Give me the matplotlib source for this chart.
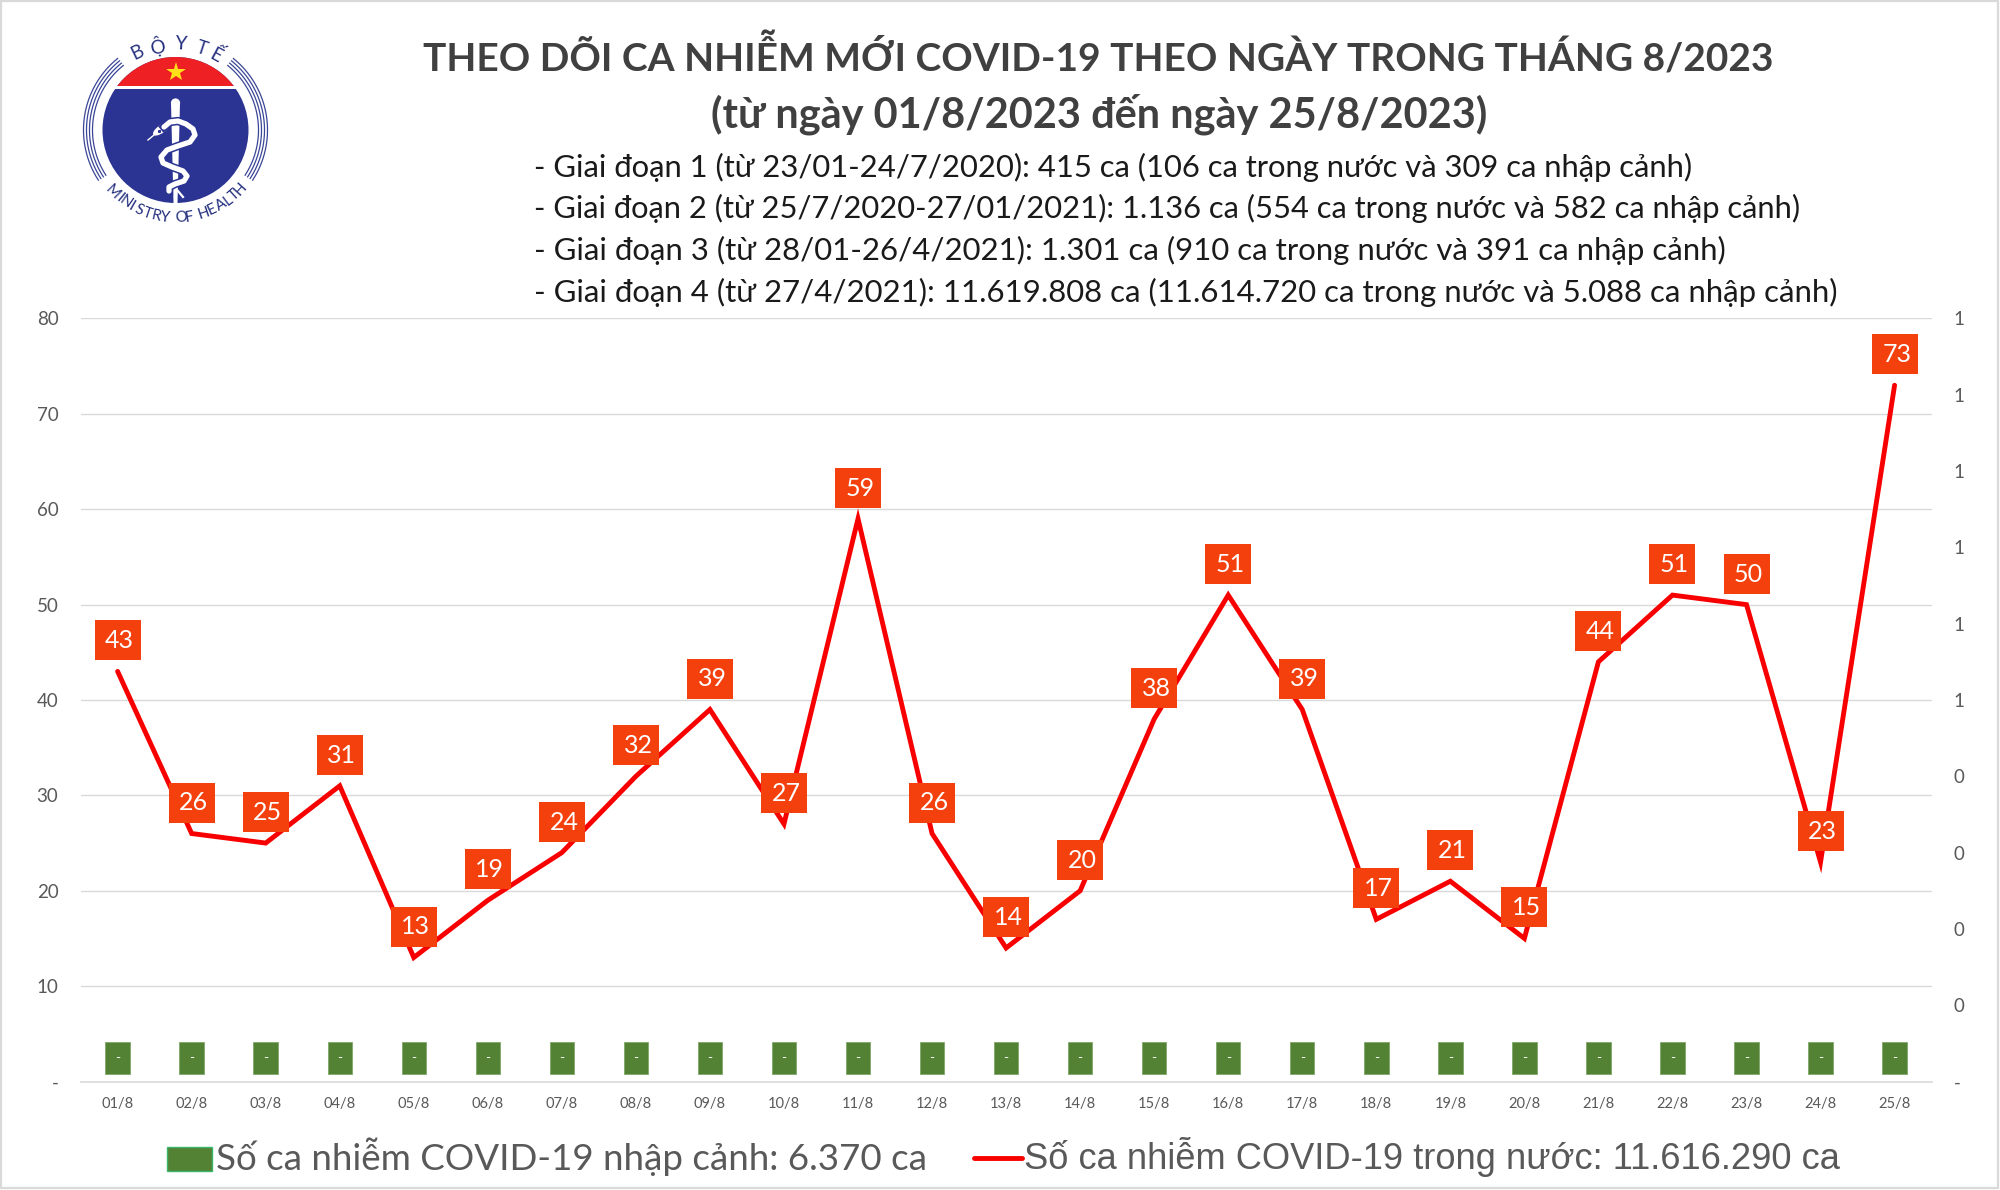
import numpy as np
import matplotlib
matplotlib.use('Agg')
import matplotlib.pyplot as plt
from matplotlib.patches import Circle, Rectangle, Ellipse
from matplotlib.path import Path
from matplotlib.transforms import offset_copy
from matplotlib.ticker import FuncFormatter

FONT = ['Lato', 'Noto Sans', 'DejaVu Sans']
plt.rcParams['font.family'] = FONT

# donnees
days = ['01/8', '02/8', '03/8', '04/8', '05/8', '06/8', '07/8', '08/8', '09/8', '10/8',
        '11/8', '12/8', '13/8', '14/8', '15/8', '16/8', '17/8', '18/8', '19/8', '20/8',
        '21/8', '22/8', '23/8', '24/8', '25/8']
trong_nuoc = [43, 26, 25, 31, 13, 19, 24, 32, 39, 27, 59, 26, 14, 20, 38, 51, 39, 17, 21, 15, 44, 51, 50, 23, 73]
bar_low = [0.8] * 25
bar_height = [3.3] * 25

title_1 = 'THEO DÕI CA NHIỄM MỚI COVID-19 THEO NGÀY TRONG THÁNG 8/2023'
title_2 = '(từ ngày 01/8/2023 đến ngày 25/8/2023)'
sub_lines = [
    '- Giai đoạn 1 (từ 23/01-24/7/2020): 415 ca (106 ca trong nước và 309 ca nhập cảnh)',
    '- Giai đoạn 2 (từ 25/7/2020-27/01/2021): 1.136 ca (554 ca trong nước và 582 ca nhập cảnh)',
    '- Giai đoạn 3 (từ 28/01-26/4/2021): 1.301 ca (910 ca trong nước và 391 ca nhập cảnh)',
    '- Giai đoạn 4 (từ 27/4/2021): 11.619.808 ca (11.614.720 ca trong nước và 5.088 ca nhập cảnh)',
]
legend_bar = 'Số ca nhiễm COVID-19 nhập cảnh: 6.370 ca'
legend_line = 'Số ca nhiễm COVID-19 trong nước: 11.616.290 ca'

W, H = 2000, 1190
GREY = '#595959'
RED = '#F80000'
ORANGE = '#F4400C'
GREEN = '#548235'
BLUE = '#2B3492'

fig = plt.figure(figsize=(W / 100, H / 100), dpi=100, facecolor='white')
renderer = fig.canvas.get_renderer()

# graphique principal
ax = fig.add_axes([80.6 / W, 1 - 1081.5 / H, 1851 / W, 763 / H])
x = np.arange(len(days))
ax.bar(x, bar_height, bottom=bar_low, width=0.33, color=GREEN, edgecolor='#7FA868', linewidth=0.6, zorder=2)
for i in x:
    ax.text(i, bar_low[i] + bar_height[i] / 2, '-', color='white', fontsize=10, ha='center', va='center', zorder=3)
ax.plot(x, trong_nuoc, color=RED, lw=3.5, solid_joinstyle='miter', solid_capstyle='round', zorder=4)

# etiquettes rouges
box = Path([(-23.5, -20), (23.5, -20), (23.5, 20), (-23.5, 20), (-23.5, -20)], closed=True)
ax.plot(x, trong_nuoc, ls='none', marker=box, ms=47 * 0.72, mfc=ORANGE, mew=0, zorder=5,
        transform=offset_copy(ax.transData, fig=fig, y=31, units='dots'))
for i, v in zip(x, trong_nuoc):
    ax.annotate(str(v), (i, v), xytext=(1.5, 22), textcoords='offset points', color='white',
                fontsize=18, ha='center', va='center', zorder=6)

ax.set_xlim(-0.5, 24.5)
ax.set_ylim(0, 80)
ax.set_yticks(range(0, 81, 10))
ax.yaxis.set_major_formatter(FuncFormatter(lambda v, p: '-' if v == 0 else f'{v:.0f}'))
ax.set_xticks(x)
ax.set_xticklabels(days)
ax.grid(axis='y', color='#D9D9D9', lw=1)
ax.set_axisbelow(True)
ax.tick_params(axis='y', length=0, pad=16, labelsize=13.5, labelcolor=GREY)
ax.tick_params(axis='x', length=0, pad=11, labelsize=10.5, labelcolor=GREY)
for s in ax.spines.values():
    s.set_visible(False)
ax.spines['bottom'].set_visible(True)
ax.spines['bottom'].set_color('#D9D9D9')
ax.spines['bottom'].set_linewidth(1.2)

# axe de droite (arrondi a l'entier)
ax2 = ax.twinx()
ax2.set_ylim(0, 1)
ax2.set_yticks(np.arange(0, 1.01, 0.1))
ax2.yaxis.set_major_formatter(FuncFormatter(lambda v, p: '-' if v < 0.01 else f'{int(v + 0.5)}'))
ax2.tick_params(axis='y', length=0, pad=16, labelsize=13.5, labelcolor=GREY)
for s in ax2.spines.values():
    s.set_visible(False)

# calque en pixels pour titre, legende et logo
ov = fig.add_axes([0, 0, 1, 1], facecolor='none')
ov.set_xlim(0, W)
ov.set_ylim(H, 0)
ov.axis('off')


def fit(txt, width):
    w = txt.get_window_extent(renderer).width
    txt.set_fontsize(txt.get_fontsize() * width / w)


fit(ov.text(423, 56, title_1, fontsize=30, fontweight='bold', color='#404040', va='center'), 1350)
fit(ov.text(711, 114, title_2, fontsize=30, fontweight='bold', color='#404040', va='center'), 776)
sub_y = [167, 208, 250, 292]
sub_w = [1158, 1263, 1184, 1299]
for s, y, w in zip(sub_lines, sub_y, sub_w):
    fit(ov.text(534, y, s, fontsize=22, color='#1A1A1A', va='center'), w)

# legende
ov.add_patch(Rectangle((167, 1147), 45, 24, facecolor=GREEN, edgecolor='#3DB56B', lw=1))
fit(ov.text(216, 1157, legend_bar, fontsize=26, color=GREY, va='center'), 712)
ov.plot([974, 1022], [1158, 1158], color=RED, lw=3.5, solid_capstyle='round')
fit(ov.text(1024, 1157, legend_line, fontsize=26, color=GREY, va='center', family='Liberation Sans'), 817)

# cadre
ov.add_patch(Rectangle((1, 1), 1997, 1187, facecolor='none', edgecolor='#D9D9D9', lw=1.6))

# logo
cx, cy, r = 175.5, 130, 73
ov.add_patch(Circle((cx, cy), r, facecolor=BLUE, edgecolor='none'))
red_cap = Circle((cx, cy), r, facecolor='#EE2024', edgecolor='none')
ov.add_patch(red_cap)
red_cap.set_clip_path(Rectangle((cx - r, cy - r), 2 * r, 29, transform=ov.transData))
ov.add_patch(Rectangle((cx - 62, 86), 124, 2.8, facecolor='white', edgecolor='none'))
ov.plot([cx], [72], marker='*', ms=14.5, mfc='#FFE11A', mew=0)

for rr in [83, 86, 89, 92]:
    for a0, a1 in [(129, 213), (-33, 51)]:
        t = np.radians(np.linspace(a0, a1, 60))
        ov.plot(cx + rr * np.cos(t), cy - rr * np.sin(t), color='#3A4696', lw=0.9)


def put_letter(ch, a, rad, size, top):
    rot = a - 90 if top else a + 90
    t = np.radians(a)
    ov.text(cx + rad * np.cos(t), cy - rad * np.sin(t), ch, fontsize=size, color='#24307F',
            rotation=rot, ha='center', va='center', rotation_mode='anchor')


for ch, a in zip('BỘYTẾ', [116, 102, 86, 72, 61.5]):
    put_letter(ch, a, 86, 13.5, True)

bottom_txt = 'MINISTRY OF HEALTH'
weights = {'I': 0.55, ' ': 0.6, 'M': 1.35, 'T': 0.9, 'L': 0.8, 'F': 0.8}
wd = np.array([weights.get(c, 1.0) for c in bottom_txt])
pos = np.cumsum(wd) - wd / 2
pos = (pos - pos[0]) / (pos[-1] - pos[0])
for ch, p in zip(bottom_txt, pos):
    put_letter(ch, 224.5 + p * (318 - 224.5), 88, 10.8, False)

# baton et serpent
ov.fill([171, 180, 177.5, 173.5], [103, 103, 203, 203], color='white', lw=0)
ov.add_patch(Circle((175.5, 103), 4.6, facecolor='white', edgecolor='none'))
sx = [164, 170, 178, 186, 193, 195, 190, 178, 167, 161, 163, 172, 183, 187, 184, 175, 169, 169]
sy = [127, 122, 121, 124, 129, 135, 142, 146, 150, 157, 163, 167, 171, 176, 181, 184, 187, 191]
ov.plot(sx, sy, color=BLUE, lw=6.0, solid_joinstyle='round')
ov.plot(sx, sy, color='white', lw=3.8, solid_joinstyle='round', solid_capstyle='round')
ov.add_patch(Ellipse((161.5, 129), 20, 8, angle=-35, facecolor='white', edgecolor='none'))
ov.plot([148, 154], [140, 135], color='white', lw=1)
ov.plot([159, 159], [131, 131], marker='o', ms=2.2, color=BLUE, mew=0)
ov.plot([178, 183], [191, 197], color='white', lw=1.6)

fig.savefig('out.png', dpi=100, facecolor='white')
